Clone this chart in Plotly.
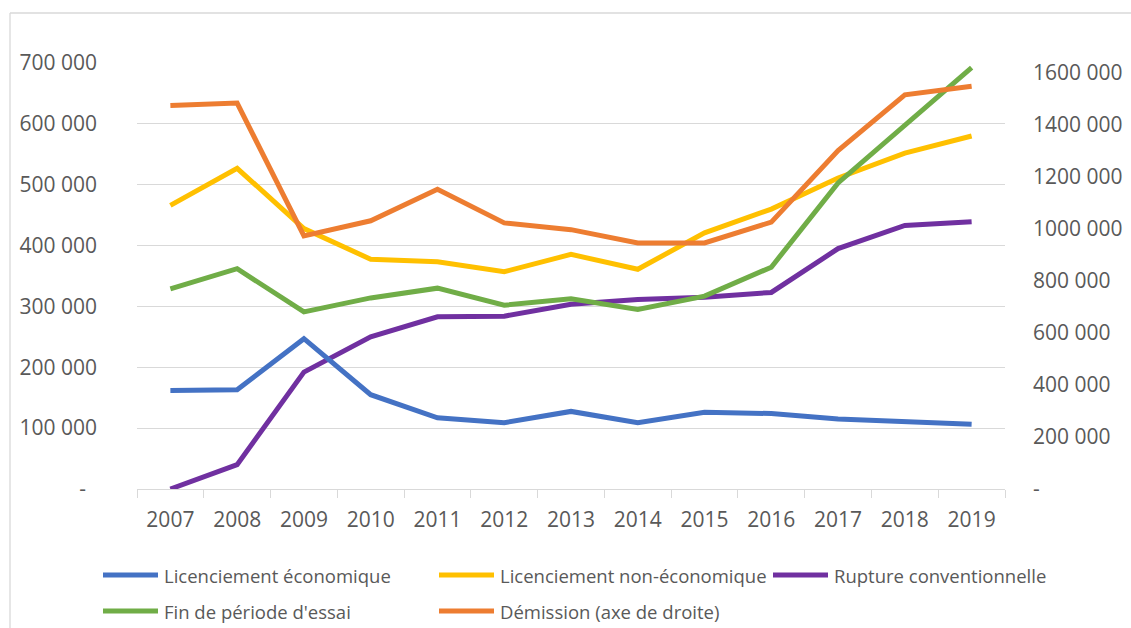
import plotly.graph_objects as go

# ---- data ----
years = [str(y) for y in range(2007, 2020)]
lic_eco = [162000, 163000, 247000, 155000, 117000, 109000, 127500, 109000, 126000, 124000, 115000, 110500, 106500]
lic_non_eco = [466000, 527000, 428000, 377500, 373500, 357000, 385500, 361000, 421000, 460000, 511000, 552000, 580000]
rupture = [0, 40000, 192000, 250000, 283000, 284000, 303500, 311500, 315000, 323000, 395000, 433000, 439000]
fin_essai = [329000, 362000, 291000, 314000, 330000, 302000, 312500, 295000, 317000, 364500, 503000, 598000, 692500]
demission = [1473000, 1482000, 972000, 1030000, 1151000, 1022000, 996000, 945000, 945000, 1025000, 1300000, 1514000, 1547000]

left_tickvals = [0, 100000, 200000, 300000, 400000, 500000, 600000, 700000]
left_ticktext = ["-\u00a0\u00a0", "100 000", "200 000", "300 000", "400 000", "500 000", "600 000", "700 000"]
right_tickvals = [0, 200000, 400000, 600000, 800000, 1000000, 1200000, 1400000, 1600000]
right_ticktext = ["-", "200 000", "400 000", "600 000", "800 000", "1000 000", "1200 000", "1400 000", "1600 000"]

names = ["Licenciement économique", "Licenciement non-économique", "Rupture conventionnelle",
         "Fin de période d'essai", "Démission (axe de droite)"]
colors = ["#4472C4", "#FFC000", "#7030A0", "#70AD47", "#ED7D31"]

FONT = "Open Sans"
GREY = "#595959"
LW = 5

fig = go.Figure()
# drawing order: purple, yellow, blue, green, orange (right axis)
fig.add_trace(go.Scatter(x=years, y=rupture, name=names[2], mode="lines",
                         line=dict(color=colors[2], width=LW)))
fig.add_trace(go.Scatter(x=years, y=lic_non_eco, name=names[1], mode="lines",
                         line=dict(color=colors[1], width=LW)))
fig.add_trace(go.Scatter(x=years, y=lic_eco, name=names[0], mode="lines",
                         line=dict(color=colors[0], width=LW)))
fig.add_trace(go.Scatter(x=years, y=fin_essai, name=names[3], mode="lines",
                         line=dict(color=colors[3], width=LW)))
fig.add_trace(go.Scatter(x=years, y=demission, name=names[4], mode="lines", yaxis="y2",
                         line=dict(color=colors[4], width=LW)))

W, H = 1131, 628
L, R, T, B = 137, 1005, 63, 489
pw, ph = R - L, B - T


def px(xp):
    return (xp - L) / pw


def py(yp):
    return (B - yp) / ph


# ---- legend drawn as shapes + annotations (Excel-style long line samples) ----
legend_slots = [(103, 575), (439, 575), (773, 575), (103, 611), (439, 611)]
SAMPLE = 55
shapes = [
    dict(type="line", xref="paper", yref="paper", x0=px(10), x1=px(10), y0=py(640), y1=py(13),
         line=dict(color="#d9d9d9", width=1.3), layer="below"),
    dict(type="line", xref="paper", yref="paper", x0=px(10), x1=px(1140), y0=py(13), y1=py(13),
         line=dict(color="#d9d9d9", width=1.3), layer="below"),
]
annotations = []
for (lx, ly), nm, col in zip(legend_slots, names, colors):
    shapes.append(dict(type="line", xref="paper", yref="paper", x0=px(lx), x1=px(lx + SAMPLE),
                       y0=py(ly), y1=py(ly), line=dict(color=col, width=LW)))
    annotations.append(dict(xref="paper", yref="paper", x=px(lx + SAMPLE + 4), y=py(ly),
                            xanchor="left", yanchor="middle", showarrow=False, text=nm,
                            font=dict(family=FONT, size=18.5, color=GREY)))

fig.update_layout(
    width=W, height=H,
    margin=dict(l=L, r=W - R, t=T, b=H - B, pad=0),
    paper_bgcolor="white", plot_bgcolor="white",
    font=dict(family=FONT, color=GREY),
    showlegend=False,
    xaxis=dict(type="category", showgrid=False, showline=True, linecolor="#d9d9d9", linewidth=1.3,
               ticks="outside", tickson="boundaries", ticklen=8, tickcolor="#d9d9d9", tickwidth=1.3,
               tickfont=dict(family=FONT, size=21, color=GREY), ticklabelstandoff=12,
               range=[-0.5, 12.5], fixedrange=True, automargin=False),
    yaxis=dict(range=[0, 700000], tickvals=left_tickvals, ticktext=left_ticktext,
               showgrid=True, gridcolor="#d9d9d9", gridwidth=1.3, zeroline=False, showline=False,
               ticks="", tickfont=dict(family=FONT, size=21, color=GREY), ticklabelstandoff=39,
               fixedrange=True, automargin=False),
    yaxis2=dict(overlaying="y", side="right", range=[0, 1636000], tickvals=right_tickvals,
                ticktext=right_ticktext, showgrid=False, zeroline=False, showline=False, ticks="",
                tickfont=dict(family=FONT, size=21, color=GREY), ticklabelstandoff=27,
                fixedrange=True, automargin=False),
    shapes=shapes,
    annotations=annotations,
)

fig.write_html(
    "out.html",
    config={"displayModeBar": False},
    post_script="document.body.style.margin='0';document.body.style.overflow='hidden';",
)
